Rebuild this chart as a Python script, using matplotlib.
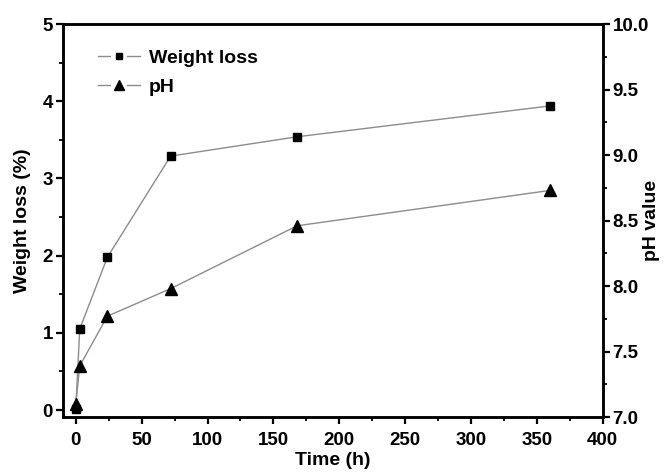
import matplotlib
matplotlib.use("Agg")
import matplotlib.pyplot as plt
from matplotlib.ticker import MultipleLocator, FormatStrFormatter
from matplotlib.lines import Line2D
from matplotlib.legend_handler import HandlerTuple

plt.rcParams['font.family'] = ['Liberation Sans', 'DejaVu Sans']
plt.rcParams['font.weight'] = 'bold'

time_h = [0, 3, 24, 72, 168, 360]
weight_loss = [0.01, 1.05, 1.98, 3.29, 3.54, 3.94]
ph_value = [7.10, 7.39, 7.77, 7.98, 8.46, 8.73]

fig = plt.figure(figsize=(6.66, 4.72), dpi=100)
ax = fig.add_axes([0.094, 0.1165, 0.811, 0.8325])
ax2 = ax.twinx()

line_col = '#8c8c8c'
ax.plot(time_h, weight_loss, color=line_col, lw=1.0, marker='s', ms=5.2,
        mfc='black', mec='black')
ax2.plot(time_h, ph_value, color=line_col, lw=1.0, marker='^', ms=8,
         mfc='black', mec='black')

ax.set_xlim(-10, 400)
ax.set_ylim(-0.09, 5)
ax2.set_ylim(7.0, 10.0)

ax.xaxis.set_major_locator(MultipleLocator(50))
ax.xaxis.set_minor_locator(MultipleLocator(25))
ax.yaxis.set_major_locator(MultipleLocator(1))
ax.yaxis.set_minor_locator(MultipleLocator(0.5))
ax2.yaxis.set_major_locator(MultipleLocator(0.5))
ax2.yaxis.set_minor_locator(MultipleLocator(0.25))
ax2.yaxis.set_major_formatter(FormatStrFormatter('%.1f'))

tick_fs = 13.5
label_fs = 14
for a in (ax, ax2):
    for s in a.spines.values():
        s.set_linewidth(1.8)
    a.tick_params(which='major', direction='out', length=5, width=1.6,
                  labelsize=tick_fs, pad=2)
    a.tick_params(which='minor', direction='out', length=3, width=1.3)
ax.tick_params(axis='x', which='major', pad=6)

ax.set_xlabel('Time (h)', fontsize=label_fs, fontweight='bold', labelpad=2)
ax.set_ylabel('Weight loss (%)', fontsize=label_fs, fontweight='bold', labelpad=8)
ax2.set_ylabel('pH value', fontsize=label_fs, fontweight='bold')
ax2.yaxis.set_label_coords(1.075, 0.5)

# legend handles: grey line broken around a small black marker
bg1 = Line2D([], [], color=line_col, lw=1.0, marker='s', ms=11,
             mfc='white', mec='white', mew=0)
fg1 = Line2D([], [], ls='none', marker='s', ms=4.5, mfc='black', mec='black')
bg2 = Line2D([], [], color=line_col, lw=1.0, marker='s', ms=11,
             mfc='white', mec='white', mew=0)
fg2 = Line2D([], [], ls='none', marker='^', ms=6.5, mfc='black', mec='black')
ax.legend(handles=[(bg1, fg1), (bg2, fg2)], labels=['Weight loss', 'pH'],
          handler_map={tuple: HandlerTuple(ndivide=1, pad=0)},
          loc='upper left', bbox_to_anchor=(0.0656, 0.935), frameon=False,
          fontsize=14, handlelength=2.15, handletextpad=0.45,
          labelspacing=0.55, borderaxespad=0, borderpad=0)

fig.canvas.draw()
for a in (ax, ax2):
    for lab in a.get_xticklabels() + a.get_yticklabels():
        lab.set_fontweight('bold')

fig.savefig('out.png', dpi=100)
